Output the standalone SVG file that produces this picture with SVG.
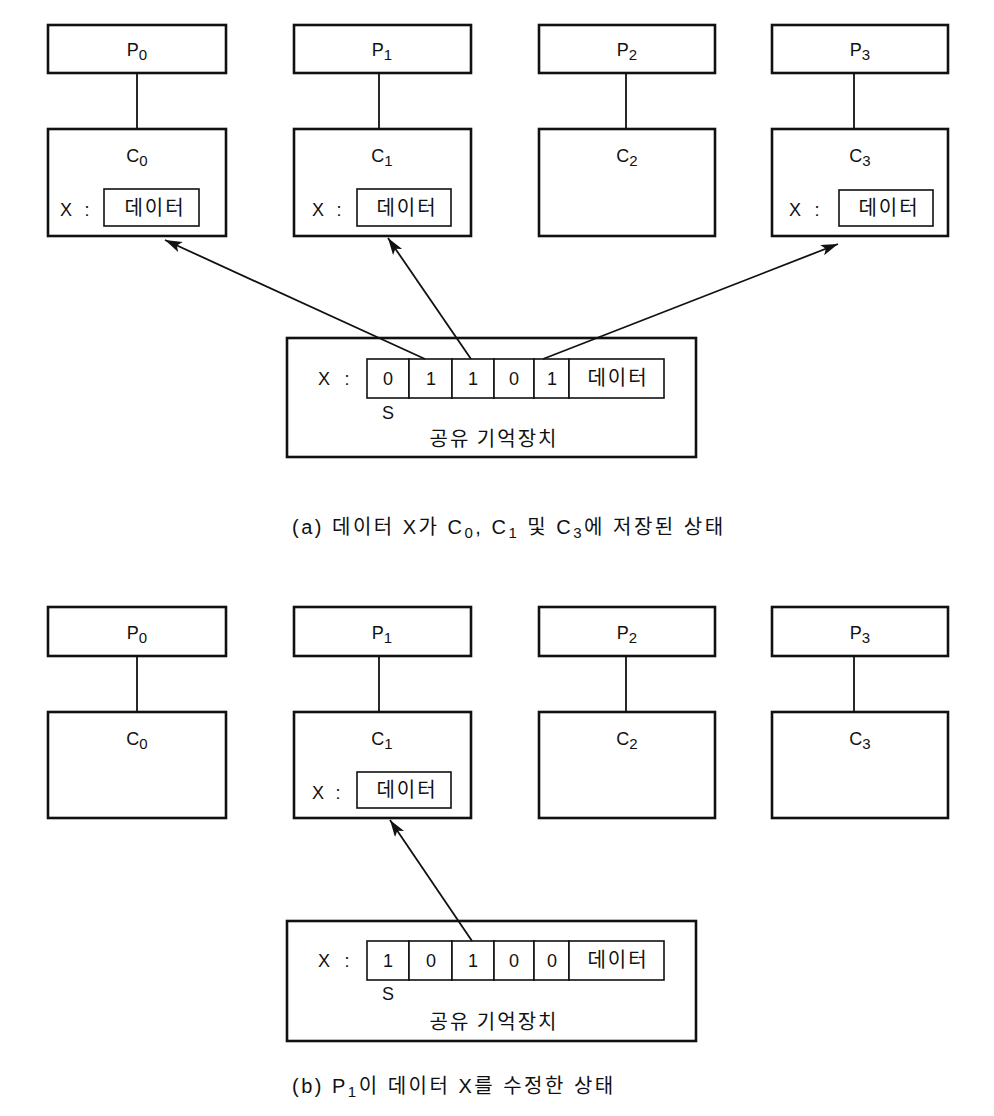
<svg xmlns="http://www.w3.org/2000/svg" width="994" height="1116" viewBox="0 0 994 1116">
<defs>
<style>
.box{fill:#fff;stroke:#111;stroke-width:2.6}
.cell{fill:#fff;stroke:#111;stroke-width:1.6}
.ln{stroke:#111;stroke-width:1.8;fill:none}
.arr{stroke:#111;stroke-width:1.8;fill:none;marker-end:url(#ah)}
.t{font-family:"Liberation Sans","Noto Sans CJK KR",sans-serif;fill:#111;text-anchor:middle}
.k{font-family:"Noto Sans CJK KR","Liberation Sans",sans-serif;fill:#111}
.lbl{font-size:18px}
.x{font-size:18px}
.ko{font-size:20px;text-anchor:middle;letter-spacing:2px}
.cap{font-family:"Liberation Sans","Noto Sans CJK KR",sans-serif;fill:#111;font-size:20px;letter-spacing:2.5px}
</style>
<marker id="ah" markerUnits="userSpaceOnUse" markerWidth="20" markerHeight="12" refX="17" refY="5.5" orient="auto">
<path d="M0,0 L17,5.5 L0,11 L4,5.5 Z" fill="#111"/>
</marker>
</defs>
<rect width="994" height="1116" fill="#fff"/>

<!-- ===== (a) ===== -->
<g id="a-P0"><rect class="box" x="48" y="25" width="178" height="48"/><text class="t lbl" x="137" y="56">P<tspan font-size="15" dy="4">0</tspan></text></g>
<g id="a-P1"><rect class="box" x="294" y="25" width="177" height="48"/><text class="t lbl" x="382" y="56">P<tspan font-size="15" dy="4">1</tspan></text></g>
<g id="a-P2"><rect class="box" x="539" y="25" width="176" height="48"/><text class="t lbl" x="627" y="56">P<tspan font-size="15" dy="4">2</tspan></text></g>
<g id="a-P3"><rect class="box" x="772" y="25" width="176" height="48"/><text class="t lbl" x="860" y="56">P<tspan font-size="15" dy="4">3</tspan></text></g>

<g id="a-C0"><rect class="box" x="48" y="129" width="178" height="107"/><text class="t lbl" x="137" y="162">C<tspan font-size="15" dy="4">0</tspan></text>
<text class="t x" x="66" y="216">X</text><text class="t x" x="87" y="216">:</text>
<rect class="cell" x="104" y="189" width="95" height="37"/><text class="k ko" x="155" y="215">데이터</text></g>
<g id="a-C1"><rect class="box" x="294" y="129" width="177" height="107"/><text class="t lbl" x="382" y="162">C<tspan font-size="15" dy="4">1</tspan></text>
<text class="t x" x="318" y="216">X</text><text class="t x" x="339" y="216">:</text>
<rect class="cell" x="357" y="189" width="94" height="37"/><text class="k ko" x="407" y="215">데이터</text></g>
<g id="a-C2"><rect class="box" x="539" y="129" width="176" height="107"/><text class="t lbl" x="627" y="162">C<tspan font-size="15" dy="4">2</tspan></text></g>
<g id="a-C3"><rect class="box" x="772" y="129" width="176" height="107"/><text class="t lbl" x="860" y="162">C<tspan font-size="15" dy="4">3</tspan></text>
<text class="t x" x="795" y="216">X</text><text class="t x" x="817" y="216">:</text>
<rect class="cell" x="839" y="190" width="94" height="36"/><text class="k ko" x="889" y="215">데이터</text></g>

<g id="a-memory">
<rect class="box" x="287" y="338" width="409" height="119"/>
<text class="t x" x="324" y="385">X</text><text class="t x" x="347" y="385">:</text>
<rect class="cell" x="367" y="359" width="42" height="39"/>
<rect class="cell" x="409" y="359" width="43" height="39"/>
<rect class="cell" x="452" y="359" width="42" height="39"/>
<rect class="cell" x="494" y="359" width="40" height="39"/>
<rect class="cell" x="534" y="359" width="35" height="39"/>
<rect class="cell" x="569" y="359" width="95" height="39"/>
<text class="t x" x="388" y="385">0</text>
<text class="t x" x="431" y="385">1</text>
<text class="t x" x="473" y="385">1</text>
<text class="t x" x="514" y="385">0</text>
<text class="t x" x="552" y="385">1</text>
<text class="k ko" x="618" y="385">데이터</text>
<text class="t x" x="388" y="419">S</text>
<text class="k ko" x="494" y="446">공유 기억장치</text>
</g>

<g id="connectors-a">
<line class="ln" x1="137" y1="73" x2="137" y2="129"/>
<line class="ln" x1="379" y1="73" x2="379" y2="129"/>
<line class="ln" x1="626" y1="73" x2="626" y2="129"/>
<line class="ln" x1="854" y1="73" x2="854" y2="129"/>
<line class="arr" x1="425" y1="359" x2="165" y2="240"/>
<line class="arr" x1="471" y1="359" x2="388" y2="238"/>
<line class="arr" x1="543" y1="359" x2="838" y2="244"/>
</g>

<text id="caption-a" class="cap" x="292" y="534">(a) 데이터 X가 C<tspan font-size="15" dy="4">0</tspan><tspan dy="-4">, C</tspan><tspan font-size="15" dy="4">1</tspan><tspan dy="-4"> 및 C</tspan><tspan font-size="15" dy="4">3</tspan><tspan dy="-4">에 저장된 상태</tspan></text>

<!-- ===== (b) ===== -->
<g id="b-P0"><rect class="box" x="48" y="607" width="178" height="49"/><text class="t lbl" x="137" y="639">P<tspan font-size="15" dy="4">0</tspan></text></g>
<g id="b-P1"><rect class="box" x="294" y="607" width="177" height="49"/><text class="t lbl" x="382" y="639">P<tspan font-size="15" dy="4">1</tspan></text></g>
<g id="b-P2"><rect class="box" x="539" y="607" width="176" height="49"/><text class="t lbl" x="627" y="639">P<tspan font-size="15" dy="4">2</tspan></text></g>
<g id="b-P3"><rect class="box" x="772" y="607" width="176" height="49"/><text class="t lbl" x="860" y="639">P<tspan font-size="15" dy="4">3</tspan></text></g>

<g id="b-C0"><rect class="box" x="48" y="712" width="178" height="106"/><text class="t lbl" x="137" y="745">C<tspan font-size="15" dy="4">0</tspan></text></g>
<g id="b-C1"><rect class="box" x="294" y="712" width="177" height="106"/><text class="t lbl" x="382" y="745">C<tspan font-size="15" dy="4">1</tspan></text>
<text class="t x" x="318" y="799">X</text><text class="t x" x="338" y="799">:</text>
<rect class="cell" x="357" y="772" width="94" height="36"/><text class="k ko" x="407" y="797">데이터</text></g>
<g id="b-C2"><rect class="box" x="539" y="712" width="176" height="106"/><text class="t lbl" x="627" y="745">C<tspan font-size="15" dy="4">2</tspan></text></g>
<g id="b-C3"><rect class="box" x="772" y="712" width="176" height="106"/><text class="t lbl" x="860" y="745">C<tspan font-size="15" dy="4">3</tspan></text></g>

<g id="b-memory">
<rect class="box" x="287" y="921" width="409" height="120"/>
<text class="t x" x="324" y="967">X</text><text class="t x" x="347" y="967">:</text>
<rect class="cell" x="367" y="941" width="42" height="39"/>
<rect class="cell" x="409" y="941" width="43" height="39"/>
<rect class="cell" x="452" y="941" width="42" height="39"/>
<rect class="cell" x="494" y="941" width="40" height="39"/>
<rect class="cell" x="534" y="941" width="35" height="39"/>
<rect class="cell" x="569" y="941" width="95" height="39"/>
<text class="t x" x="388" y="967">1</text>
<text class="t x" x="431" y="967">0</text>
<text class="t x" x="473" y="967">1</text>
<text class="t x" x="514" y="967">0</text>
<text class="t x" x="552" y="967">0</text>
<text class="k ko" x="618" y="967">데이터</text>
<text class="t x" x="388" y="1000">S</text>
<text class="k ko" x="494" y="1029">공유 기억장치</text>
</g>

<g id="connectors-b">
<line class="ln" x1="137" y1="656" x2="137" y2="712"/>
<line class="ln" x1="379" y1="656" x2="379" y2="712"/>
<line class="ln" x1="626" y1="656" x2="626" y2="712"/>
<line class="ln" x1="854" y1="656" x2="854" y2="712"/>
<line class="arr" x1="472" y1="941" x2="390" y2="820"/>
</g>

<text id="caption-b" class="cap" x="292" y="1093">(b) P<tspan font-size="15" dy="4">1</tspan><tspan dy="-4">이 데이터 X를 수정한 상태</tspan></text>
</svg>
